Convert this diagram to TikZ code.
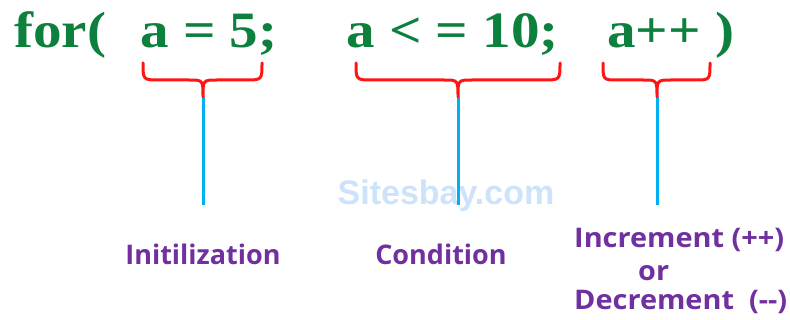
\documentclass[tikz,border=0pt]{standalone}
\usepackage{fontspec}
\setmainfont{Liberation Serif}
\newfontfamily\labfont{Open Sans}
\newfontfamily\wmfont{Liberation Sans}
\definecolor{codegreen}{RGB}{14,128,62}
\definecolor{bracered}{RGB}{255,20,20}
\definecolor{linecyan}{RGB}{0,176,240}
\definecolor{labpurple}{RGB}{112,48,160}
\definecolor{wmblue}{RGB}{204,227,251}
\newcommand{\codetxt}[1]{\scalebox{1.12}[1]{#1}}
\newcommand{\widetxt}[1]{\scalebox{1.07}[1]{#1}}
\tikzset{
  code/.style={anchor=base west, inner sep=0pt, text=codegreen, font=\fontsize{51}{60}\selectfont\bfseries},
  lab/.style={anchor=base, inner sep=0pt, text=labpurple, font=\labfont\fontsize{27}{32}\selectfont\bfseries},
  labw/.style={lab, anchor=base west},
  bracepath/.style={draw=bracered, line width=3pt, line join=round, line cap=round},
  stem/.style={draw=linecyan, line width=3pt}
}
\begin{document}
\begin{tikzpicture}[x=1pt,y=-1pt]
\useasboundingbox (0,0) rectangle (790,320);
\fill[white] (0,0) rectangle (790,320);
% watermark
\node[anchor=base, inner sep=0pt, text=wmblue, font=\wmfont\fontsize{34}{40}\selectfont\bfseries] (wm) at (446,205) {Sitesbay.com};
% code text
\node[code] (c0) at (14,48) {\codetxt{for(}};
\node[code] (c1) at (140,48) {\codetxt{a = 5;}};
\node[code] (c2) at (346,48) {\codetxt{a < = 10;}};
\node[code] (c3) at (607,48) {\codetxt{a++ )}};
% brace tips and stem ends
\coordinate (t1) at (203,97);
\coordinate (t2) at (458,97);
\coordinate (t3) at (657,97);
\coordinate (e1) at (203,205);
\coordinate (e2) at (458,205);
\coordinate (e3) at (657,205);
% stems
\draw[stem] (t1) -- (e1);
\draw[stem] (t2) -- (e2);
\draw[stem] (t3) -- (e3);
% braces
\draw[bracepath] (143,63) .. controls (143,80) .. (160,80) -- (189,80)
  .. controls (203,80) .. (t1) .. controls (203,80) .. (217,80) -- (245,80)
  .. controls (262,80) .. (262,63);
\draw[bracepath] (356,63) .. controls (356,80) .. (373,80) -- (444,80)
  .. controls (458,80) .. (t2) .. controls (458,80) .. (472,80) -- (543,80)
  .. controls (560,80) .. (560,63);
\draw[bracepath] (603,63) .. controls (603,80) .. (618,80) -- (643,80)
  .. controls (657,80) .. (t3) .. controls (657,80) .. (671,80) -- (695,80)
  .. controls (710,80) .. (710,63);
% labels
\node[lab] (l1) at (203,265) {Initilization};
\node[lab] (l2) at (441,265) {Condition};
\node[labw] (l3a) at (574,248) {\widetxt{Increment (++)}};
\node[labw] (l3b) at (638,281) {\widetxt{or}};
\node[labw] (l3c) at (574,310) {\widetxt{Decrement\ \ (--)}};
\end{tikzpicture}
\end{document}
